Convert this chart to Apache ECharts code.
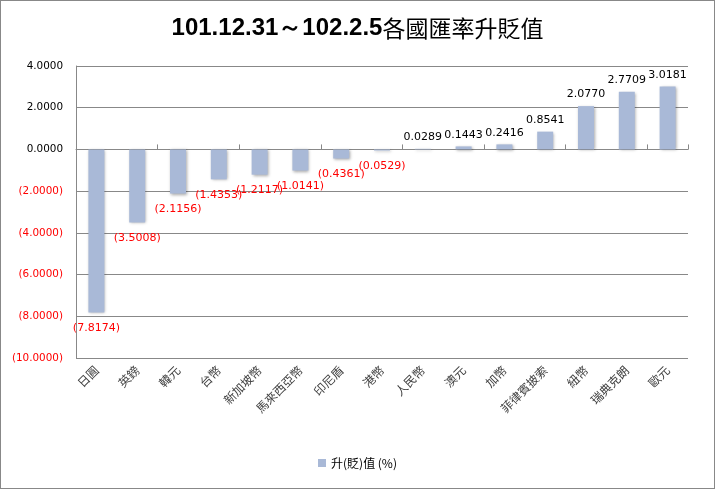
<!DOCTYPE html>
<html><head><meta charset="utf-8">
<script src="https://cdn.jsdelivr.net/npm/echarts@6/dist/echarts.min.js"></script>
<style>html,body{margin:0;padding:0;background:#fff}#c{width:713px;height:487px;border:1px solid #888}</style>
</head><body><div id="c"></div>
<script>
const categories = ['日圓','英鎊','韓元','台幣','新加坡幣','馬來西亞幣','印尼盾','港幣','人民幣','澳元','加幣','菲律賓披索','紐幣','瑞典克朗','歐元'];
const values = [-7.8174,-3.5008,-2.1156,-1.4353,-1.2117,-1.0141,-0.4361,-0.0529,0.0289,0.1443,0.2416,0.8541,2.0770,2.7709,3.0181];
const seriesName = '升(貶)值 (%)';
const titleDate = '101.12.31～102.2.5';
const titleText = '各國匯率升貶值';

function fmt(v){ return v < 0 ? '(' + Math.abs(v).toFixed(4) + ')' : v.toFixed(4); }

const chart = echarts.init(document.getElementById('c'));
chart.setOption({
  animation:false,
  title:{
    text:'{a|'+titleDate+'}{b|'+titleText+'}',
    left:'center', top:10,
    textStyle:{rich:{
      a:{fontFamily:'Liberation Sans Narrow, Liberation Sans, sans-serif',fontWeight:'bold',fontSize:24,color:'#000'},
      b:{fontFamily:'Noto Sans CJK TC',fontWeight:'normal',fontSize:23,color:'#000'}
    }}
  },
  legend:{
    bottom:14, left:'center', icon:'rect', itemWidth:8, itemHeight:8,
    textStyle:{fontSize:12,color:'#000',fontFamily:'Noto Sans CJK TC'},
    data:[seriesName]
  },
  grid:{left:75, right:26, top:65, bottom:130},
  xAxis:[{
    type:'category', data:categories, position:'bottom',
    axisLine:{show:false, onZero:false}, axisTick:{show:false},
    axisLabel:{rotate:45, margin:10, fontSize:12, color:'#404040', fontFamily:'Noto Sans CJK TC', interval:0}
  },{
    type:'category', data:categories, position:'bottom',
    axisLine:{show:true, onZero:true, lineStyle:{color:'#888'}},
    axisTick:{show:true, inside:true, length:5, lineStyle:{color:'#888'}},
    axisLabel:{show:false}
  }],
  yAxis:{
    type:'value', min:-10, max:4, interval:2,
    axisLine:{show:true, lineStyle:{color:'#888'}},
    axisTick:{show:false},
    splitLine:{lineStyle:{color:'#888'}},
    axisLabel:{
      formatter:fmt, fontSize:10.4, margin:13, fontFamily:'DejaVu Sans',
      color:function(v){ return Number(v) < 0 ? '#ff0000' : '#000'; }
    }
  },
  series:[{
    name:seriesName, type:'bar', xAxisIndex:1, barWidth:16,
    itemStyle:{color:'#a9b9d7', shadowColor:'rgba(0,0,0,0.35)', shadowBlur:3, shadowOffsetX:1, shadowOffsetY:1},
    label:{show:true, fontSize:11, fontFamily:'DejaVu Sans',
      formatter:function(p){ return p.value < 0 ? '{n|'+fmt(p.value)+'}' : '{p|'+fmt(p.value)+'}'; },
      rich:{n:{color:'#ff0000',fontSize:11,fontFamily:'DejaVu Sans'},p:{color:'#000',fontSize:11,fontFamily:'DejaVu Sans'}}
    },
    data: values.map(v => ({value:v, label: v < 0 ? {position:'bottom', distance:10} : {position:'top', distance:6}}))
  }]
});
</script></body></html>
